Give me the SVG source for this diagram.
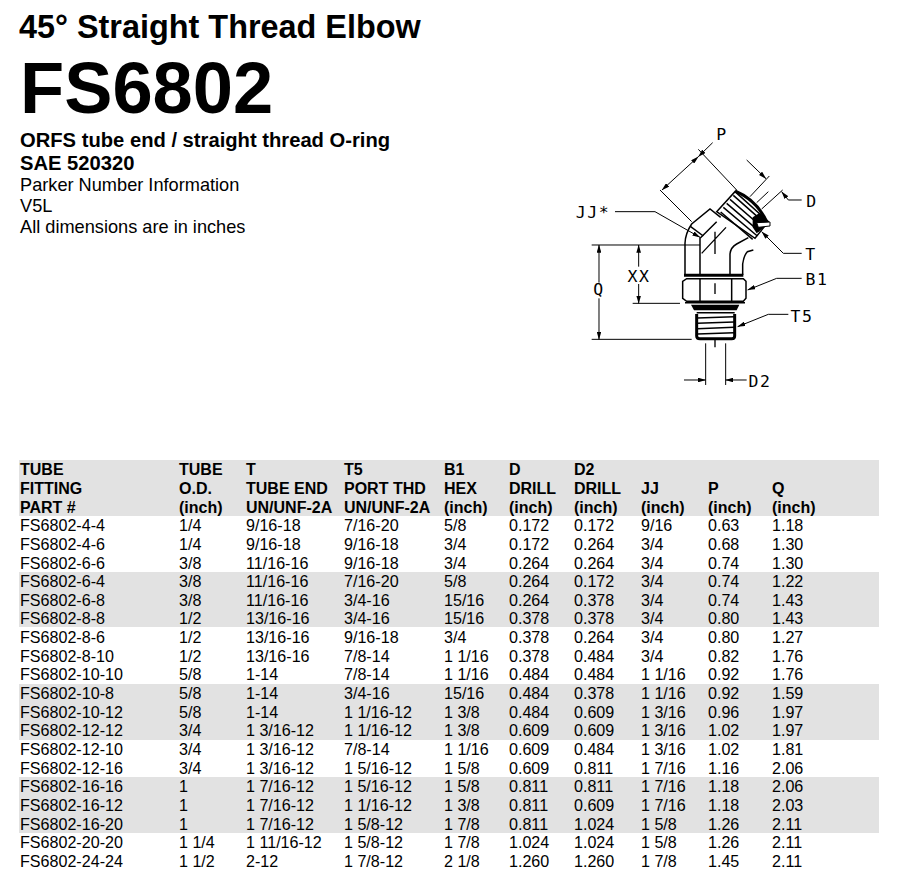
<svg xmlns="http://www.w3.org/2000/svg" width="899" height="892" viewBox="0 0 899 892">
<style>
text{font-family:"Liberation Sans",Arial,sans-serif;fill:#000}
.h{font-size:16px;font-weight:700}
.c{font-size:16.1px}
.p{font-size:18.2px}
.b{font-size:20.2px;font-weight:700}
.band{fill:#e2e2e2}
text.l{font-family:"DejaVu Sans Mono","Liberation Mono",monospace;font-size:16.5px;letter-spacing:1.5px;text-anchor:middle}
.ln{fill:none;stroke:#000;stroke-width:4.5}
.th{fill:none;stroke:#000;stroke-width:4.5}
.tk{fill:none;stroke:#000;stroke-width:9}
.dim{fill:none;stroke:#000;stroke-width:3}
.ctr{fill:none;stroke:#000;stroke-width:4}
</style>
<defs>
<marker id="a2" markerWidth="24" markerHeight="14" refX="23" refY="7" orient="auto-start-reverse" markerUnits="userSpaceOnUse" viewBox="0 0 24 14"><path d="M0 0L24 7L0 14Z"/></marker>
</defs>
<rect width="899" height="892" fill="#fff"/>
<g id="title">
<text x="19" y="38" style="font-size:32.4px;font-weight:700">45° Straight Thread Elbow</text>
<text x="20" y="113" style="font-size:72.3px;font-weight:700">FS6802</text>
<text x="20" y="147" class="b">ORFS tube end / straight thread O-ring</text>
<text x="20" y="170" class="b">SAE 520320</text>
<text x="20" y="191" class="p">Parker Number Information</text>
<text x="20" y="212" class="p">V5L</text>
<text x="20" y="233" class="p">All dimensions are in inches</text>
</g>
<g id="drawing">
<g transform="translate(560 110) scale(.33333)">
<g id="fitting-body">
<path class="ln" d="M375 495V400Q376 370 395 342L450 297L482 322"/>
<path class="ln" d="M420 495V385L470 335"/>
<path class="ln" d="M510 495V432Q512 412 530 402L565 383"/>
<path class="ln" d="M548 495V462Q552 435 562 425L580 420"/>
<path class="ln" d="M392 350L430 378"/>
<path class="ln" d="M470 305L525 245L625 335L585 385Z"/>
<path class="th" d="M482 306L578 388M490 292L592 378M500 280L598 364M510 268L602 348M520 256L592 320"/>
<path class="tk" d="M525 243Q590 270 620 335"/>
<path d="M578 322L600 308L628 340L590 370L578 352Z"/>
<path d="M590 338L630 336V348L595 352Z" fill="#fff" stroke="#000" stroke-width="3"/>
<path class="tk" d="M372 496H550"/>
<path class="ln" d="M380 506H550L558 514V565L550 574H380L368 565V514Z"/>
<path class="ln" d="M420 506V574M515 506V574M375 578H555"/>
<path d="M393 584H538L530 601H402Z"/>
<path class="tk" d="M410 612V678Q410 686 420 686H515Q524 686 524 678V612"/>
<path class="th" stroke-width="6" d="M410 608H524M412 624L522 620M412 640L522 636M412 656L522 652M412 672L522 668"/>
</g>
<g id="dimensions">
<path class="ctr" d="M465 365V432M465 520V552M465 690V712M498 352L425 430"/>
<path class="dim" d="M415 118L530 240M300 240L395 335"/>
<path class="dim" marker-end="url(#a2)" d="M458 98L415 140"/>
<path class="dim" marker-start="url(#a2)" marker-end="url(#a2)" d="M415 140L306 240"/>
<path class="dim" marker-end="url(#a2)" d="M560 150L618 206"/>
<path class="dim" d="M628 198L570 260M625 245L590 278M668 240L605 297"/>
<path class="dim" marker-start="url(#a2)" d="M665 245L685 270H725"/>
<path class="dim" marker-start="url(#a2)" d="M605 365L670 430H725"/>
<path class="dim" marker-start="url(#a2)" d="M563 540L650 505H725"/>
<path class="dim" marker-start="url(#a2)" d="M533 650L625 613H685"/>
<path class="dim" marker-end="url(#a2)" d="M165 305H285L420 382"/>
<path class="dim" d="M95 405H420M95 688H395M218 580H360"/>
<path class="dim" marker-start="url(#a2)" d="M117 405V518"/>
<path class="dim" marker-end="url(#a2)" d="M117 565V688"/>
<path class="dim" marker-start="url(#a2)" d="M236 405V470"/>
<path class="dim" marker-end="url(#a2)" d="M236 522V580"/>
<path class="dim" d="M437 700V825M497 700V825"/>
<path class="dim" marker-end="url(#a2)" d="M372 810H437"/>
<path class="dim" marker-start="url(#a2)" d="M497 810H560"/>
</g>
</g>
<g id="labels">
<text class="l" x="722" y="140">P</text>
<text class="l" x="812" y="207">D</text>
<text class="l" x="811" y="260">T</text>
<text class="l" x="817" y="285">B1</text>
<text class="l" x="802" y="322">T5</text>
<text class="l" x="760" y="387">D2</text>
<text class="l" x="593" y="218">JJ*</text>
<text class="l" x="599" y="295">Q</text>
<text class="l" x="639" y="282">XX</text>
</g>
</g>
<g id="table">
<rect class="band" x="19" y="460" width="860" height="56"/>
<rect class="band" x="19" y="572" width="860" height="55"/>
<rect class="band" x="19" y="684" width="860" height="56"/>
<rect class="band" x="19" y="777" width="860" height="56"/>
<g class="h">
<text x="20" y="475">TUBE</text><text x="179" y="475">TUBE</text><text x="246" y="475">T</text><text x="344" y="475">T5</text><text x="444" y="475">B1</text><text x="509" y="475">D</text><text x="574" y="475">D2</text>
<text x="20" y="494">FITTING</text><text x="179" y="494">O.D.</text><text x="246" y="494">TUBE END</text><text x="344" y="494">PORT THD</text><text x="444" y="494">HEX</text><text x="509" y="494">DRILL</text><text x="574" y="494">DRILL</text><text x="641" y="494">JJ</text><text x="708" y="494">P</text><text x="772" y="494">Q</text>
<text x="20" y="513">PART #</text><text x="179" y="513">(inch)</text><text x="246" y="513">UN/UNF-2A</text><text x="344" y="513">UN/UNF-2A</text><text x="444" y="513">(inch)</text><text x="509" y="513">(inch)</text><text x="574" y="513">(inch)</text><text x="641" y="513">(inch)</text><text x="708" y="513">(inch)</text><text x="772" y="513">(inch)</text>
</g>
<g class="c">
<text x="20" y="531">FS6802-4-4</text><text x="179" y="531">1/4</text><text x="246" y="531">9/16-18</text><text x="344" y="531">7/16-20</text><text x="444" y="531">5/8</text><text x="509" y="531">0.172</text><text x="574" y="531">0.172</text><text x="641" y="531">9/16</text><text x="708" y="531">0.63</text><text x="772" y="531">1.18</text>
<text x="20" y="550">FS6802-4-6</text><text x="179" y="550">1/4</text><text x="246" y="550">9/16-18</text><text x="344" y="550">9/16-18</text><text x="444" y="550">3/4</text><text x="509" y="550">0.172</text><text x="574" y="550">0.264</text><text x="641" y="550">3/4</text><text x="708" y="550">0.68</text><text x="772" y="550">1.30</text>
<text x="20" y="569">FS6802-6-6</text><text x="179" y="569">3/8</text><text x="246" y="569">11/16-16</text><text x="344" y="569">9/16-18</text><text x="444" y="569">3/4</text><text x="509" y="569">0.264</text><text x="574" y="569">0.264</text><text x="641" y="569">3/4</text><text x="708" y="569">0.74</text><text x="772" y="569">1.30</text>
<text x="20" y="587">FS6802-6-4</text><text x="179" y="587">3/8</text><text x="246" y="587">11/16-16</text><text x="344" y="587">7/16-20</text><text x="444" y="587">5/8</text><text x="509" y="587">0.264</text><text x="574" y="587">0.172</text><text x="641" y="587">3/4</text><text x="708" y="587">0.74</text><text x="772" y="587">1.22</text>
<text x="20" y="606">FS6802-6-8</text><text x="179" y="606">3/8</text><text x="246" y="606">11/16-16</text><text x="344" y="606">3/4-16</text><text x="444" y="606">15/16</text><text x="509" y="606">0.264</text><text x="574" y="606">0.378</text><text x="641" y="606">3/4</text><text x="708" y="606">0.74</text><text x="772" y="606">1.43</text>
<text x="20" y="624">FS6802-8-8</text><text x="179" y="624">1/2</text><text x="246" y="624">13/16-16</text><text x="344" y="624">3/4-16</text><text x="444" y="624">15/16</text><text x="509" y="624">0.378</text><text x="574" y="624">0.378</text><text x="641" y="624">3/4</text><text x="708" y="624">0.80</text><text x="772" y="624">1.43</text>
<text x="20" y="643">FS6802-8-6</text><text x="179" y="643">1/2</text><text x="246" y="643">13/16-16</text><text x="344" y="643">9/16-18</text><text x="444" y="643">3/4</text><text x="509" y="643">0.378</text><text x="574" y="643">0.264</text><text x="641" y="643">3/4</text><text x="708" y="643">0.80</text><text x="772" y="643">1.27</text>
<text x="20" y="662">FS6802-8-10</text><text x="179" y="662">1/2</text><text x="246" y="662">13/16-16</text><text x="344" y="662">7/8-14</text><text x="444" y="662">1 1/16</text><text x="509" y="662">0.378</text><text x="574" y="662">0.484</text><text x="641" y="662">3/4</text><text x="708" y="662">0.82</text><text x="772" y="662">1.76</text>
<text x="20" y="680">FS6802-10-10</text><text x="179" y="680">5/8</text><text x="246" y="680">1-14</text><text x="344" y="680">7/8-14</text><text x="444" y="680">1 1/16</text><text x="509" y="680">0.484</text><text x="574" y="680">0.484</text><text x="641" y="680">1 1/16</text><text x="708" y="680">0.92</text><text x="772" y="680">1.76</text>
<text x="20" y="699">FS6802-10-8</text><text x="179" y="699">5/8</text><text x="246" y="699">1-14</text><text x="344" y="699">3/4-16</text><text x="444" y="699">15/16</text><text x="509" y="699">0.484</text><text x="574" y="699">0.378</text><text x="641" y="699">1 1/16</text><text x="708" y="699">0.92</text><text x="772" y="699">1.59</text>
<text x="20" y="718">FS6802-10-12</text><text x="179" y="718">5/8</text><text x="246" y="718">1-14</text><text x="344" y="718">1 1/16-12</text><text x="444" y="718">1 3/8</text><text x="509" y="718">0.484</text><text x="574" y="718">0.609</text><text x="641" y="718">1 3/16</text><text x="708" y="718">0.96</text><text x="772" y="718">1.97</text>
<text x="20" y="736">FS6802-12-12</text><text x="179" y="736">3/4</text><text x="246" y="736">1 3/16-12</text><text x="344" y="736">1 1/16-12</text><text x="444" y="736">1 3/8</text><text x="509" y="736">0.609</text><text x="574" y="736">0.609</text><text x="641" y="736">1 3/16</text><text x="708" y="736">1.02</text><text x="772" y="736">1.97</text>
<text x="20" y="755">FS6802-12-10</text><text x="179" y="755">3/4</text><text x="246" y="755">1 3/16-12</text><text x="344" y="755">7/8-14</text><text x="444" y="755">1 1/16</text><text x="509" y="755">0.609</text><text x="574" y="755">0.484</text><text x="641" y="755">1 3/16</text><text x="708" y="755">1.02</text><text x="772" y="755">1.81</text>
<text x="20" y="774">FS6802-12-16</text><text x="179" y="774">3/4</text><text x="246" y="774">1 3/16-12</text><text x="344" y="774">1 5/16-12</text><text x="444" y="774">1 5/8</text><text x="509" y="774">0.609</text><text x="574" y="774">0.811</text><text x="641" y="774">1 7/16</text><text x="708" y="774">1.16</text><text x="772" y="774">2.06</text>
<text x="20" y="792">FS6802-16-16</text><text x="179" y="792">1</text><text x="246" y="792">1 7/16-12</text><text x="344" y="792">1 5/16-12</text><text x="444" y="792">1 5/8</text><text x="509" y="792">0.811</text><text x="574" y="792">0.811</text><text x="641" y="792">1 7/16</text><text x="708" y="792">1.18</text><text x="772" y="792">2.06</text>
<text x="20" y="811">FS6802-16-12</text><text x="179" y="811">1</text><text x="246" y="811">1 7/16-12</text><text x="344" y="811">1 1/16-12</text><text x="444" y="811">1 3/8</text><text x="509" y="811">0.811</text><text x="574" y="811">0.609</text><text x="641" y="811">1 7/16</text><text x="708" y="811">1.18</text><text x="772" y="811">2.03</text>
<text x="20" y="830">FS6802-16-20</text><text x="179" y="830">1</text><text x="246" y="830">1 7/16-12</text><text x="344" y="830">1 5/8-12</text><text x="444" y="830">1 7/8</text><text x="509" y="830">0.811</text><text x="574" y="830">1.024</text><text x="641" y="830">1 5/8</text><text x="708" y="830">1.26</text><text x="772" y="830">2.11</text>
<text x="20" y="848">FS6802-20-20</text><text x="179" y="848">1 1/4</text><text x="246" y="848">1 11/16-12</text><text x="344" y="848">1 5/8-12</text><text x="444" y="848">1 7/8</text><text x="509" y="848">1.024</text><text x="574" y="848">1.024</text><text x="641" y="848">1 5/8</text><text x="708" y="848">1.26</text><text x="772" y="848">2.11</text>
<text x="20" y="867">FS6802-24-24</text><text x="179" y="867">1 1/2</text><text x="246" y="867">2-12</text><text x="344" y="867">1 7/8-12</text><text x="444" y="867">2 1/8</text><text x="509" y="867">1.260</text><text x="574" y="867">1.260</text><text x="641" y="867">1 7/8</text><text x="708" y="867">1.45</text><text x="772" y="867">2.11</text>
</g>
</g>
</svg>
